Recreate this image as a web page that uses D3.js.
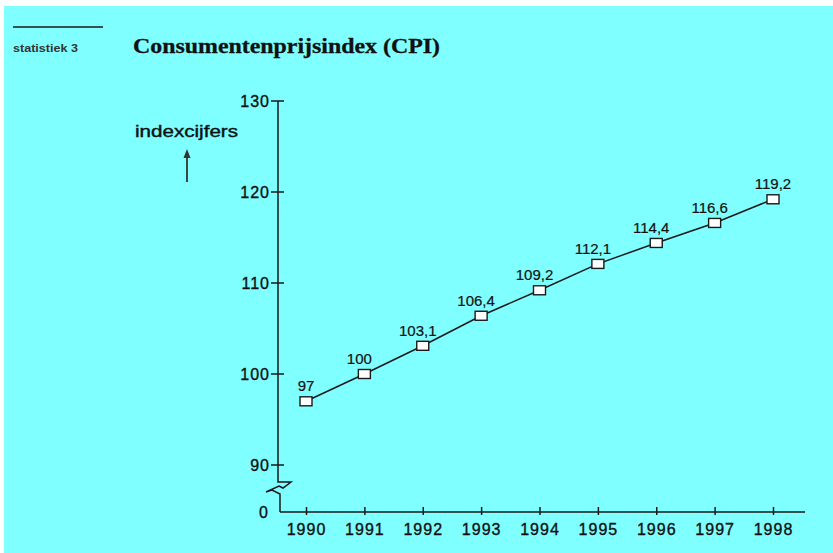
<!DOCTYPE html>
<html>
<head>
<meta charset="utf-8">
<script src="https://cdn.jsdelivr.net/npm/d3@7"></script>
<style>
  html, body { margin: 0; padding: 0; background: #fff; }
  svg { display: block; }
</style>
</head>
<body>
<svg id="chart" width="833" height="553"></svg>
<script>
// ---- data ----
const years = [1990, 1991, 1992, 1993, 1994, 1995, 1996, 1997, 1998];
const cpi = [97, 100, 103.1, 106.4, 109.2, 112.1, 114.4, 116.6, 119.2];
const cpiLabels = ["97", "100", "103,1", "106,4", "109,2", "112,1", "114,4", "116,6", "119,2"];
const yTicks = [0, 90, 100, 110, 120, 130];
const title = "Consumentenprijsindex (CPI)";
const subtitle = "statistiek 3";
const yLabel = "indexcijfers";

const svg = d3.select("#chart");
const ink = "#1a1a1a";
const sans = "Liberation Sans, Arial, sans-serif";

// background
svg.append("rect").attr("x", 4).attr("y", 6).attr("width", 829).attr("height", 547).attr("fill", "#7fffff");

// header
svg.append("line").attr("x1", 13).attr("x2", 103).attr("y1", 27).attr("y2", 27)
  .attr("stroke", ink).attr("stroke-width", 1.6);
svg.append("text").attr("x", 13).attr("y", 52).text(subtitle)
  .attr("font-family", sans).attr("font-size", 11).attr("font-weight", "bold")
  .attr("fill", "#333").attr("textLength", 65).attr("lengthAdjust", "spacingAndGlyphs");
svg.append("text").attr("x", 133).attr("y", 53).text(title)
  .attr("font-family", "Liberation Serif, Times New Roman, serif").attr("font-size", 21).attr("font-weight", "bold")
  .attr("fill", "#111").attr("stroke", "#111").attr("stroke-width", 0.3)
  .attr("textLength", 307).attr("lengthAdjust", "spacingAndGlyphs");

// scales (broken axis: 0 .. 90 compressed)
const x = d3.scaleLinear().domain([1990, 1998]).range([306, 773]);
const y = d3.scaleLinear().domain([0, 90, 130]).range([512, 465, 101]);
const axisX = 278;

// y axis labels
const yAxis = d3.axisLeft(y).tickValues(yTicks).tickSize(0).tickPadding(8).tickFormat(d3.format("d"));
const gy = svg.append("g").attr("transform", `translate(${axisX},0)`).call(yAxis);
gy.select(".domain").remove();
gy.selectAll("text").attr("font-family", sans).attr("font-size", 16)
  .attr("letter-spacing", 1).attr("fill", "#111").attr("stroke", "#111").attr("stroke-width", 0.35);
gy.selectAll(".tick").filter(d => d === 0).select("text").attr("x", -9);

// y tick marks (not for 0)
svg.append("g").selectAll("line").data(yTicks.filter(d => d > 0)).join("line")
  .attr("x1", axisX - 7).attr("x2", axisX + 6)
  .attr("y1", d => y(d)).attr("y2", d => y(d))
  .attr("stroke", ink).attr("stroke-width", 1.5);

// y axis line with break
const breakPath = d3.path();
breakPath.moveTo(axisX, y(130));
breakPath.lineTo(axisX, 482);
breakPath.lineTo(291, 482);
breakPath.lineTo(283, 488);
breakPath.lineTo(279, 486);
breakPath.lineTo(266, 492);
breakPath.lineTo(272, 490);
breakPath.lineTo(280, 494);
breakPath.lineTo(280, y(0));
svg.append("path").attr("d", breakPath.toString()).attr("fill", "none")
  .attr("stroke", ink).attr("stroke-width", 1.5).attr("stroke-linejoin", "miter");

// x axis
svg.append("line").attr("x1", 280).attr("x2", 805).attr("y1", y(0)).attr("y2", y(0))
  .attr("stroke", ink).attr("stroke-width", 1.6);
const xAxis = d3.axisBottom(x).tickValues(years).tickSize(3).tickFormat(d3.format("d"));
const gx = svg.append("g").attr("transform", `translate(0,${y(0)})`).call(xAxis);
gx.select(".domain").remove();
gx.selectAll(".tick line").attr("y1", -5).attr("y2", 3).attr("stroke", ink).attr("stroke-width", 1.5);
gx.selectAll(".tick text").attr("y", 23).attr("dy", 0)
  .attr("font-family", sans).attr("font-size", 16)
  .attr("letter-spacing", 1).attr("fill", "#111").attr("stroke", "#111").attr("stroke-width", 0.35);

// y label + arrow
svg.append("text").attr("x", 135).attr("y", 137).text(yLabel)
  .attr("font-family", sans).attr("font-size", 16)
  .attr("fill", "#111").attr("stroke", "#111").attr("stroke-width", 0.4)
  .attr("textLength", 103).attr("lengthAdjust", "spacingAndGlyphs");
svg.append("line").attr("x1", 187).attr("x2", 187).attr("y1", 155).attr("y2", 182)
  .attr("stroke", "#333").attr("stroke-width", 1.8);
svg.append("path").attr("d", "M183.5,158 L187,149 L190.5,158 Z").attr("fill", "#333");

// line
const pts = years.map((yr, i) => ({ yr, v: cpi[i], lab: cpiLabels[i] }));
svg.append("path").datum(pts)
  .attr("d", d3.line().x(d => x(d.yr)).y(d => y(d.v)))
  .attr("fill", "none").attr("stroke", ink).attr("stroke-width", 1.5);

// markers
svg.append("g").selectAll("rect").data(pts).join("rect")
  .attr("x", d => x(d.yr) - 6).attr("y", d => y(d.v) - 4.5)
  .attr("width", 12).attr("height", 9)
  .attr("fill", "#fff").attr("stroke", ink).attr("stroke-width", 1.4);

// value labels
svg.append("g").selectAll("text").data(pts).join("text")
  .attr("x", (d, i) => x(d.yr) - (i === 0 || i === pts.length - 1 ? 0 : 5))
  .attr("y", d => y(d.v) - 10)
  .attr("text-anchor", "middle")
  .attr("font-family", sans).attr("font-size", 15)
  .attr("fill", "#111").attr("stroke", "#111").attr("stroke-width", 0.2)
  .text(d => d.lab);
</script>
</body>
</html>
